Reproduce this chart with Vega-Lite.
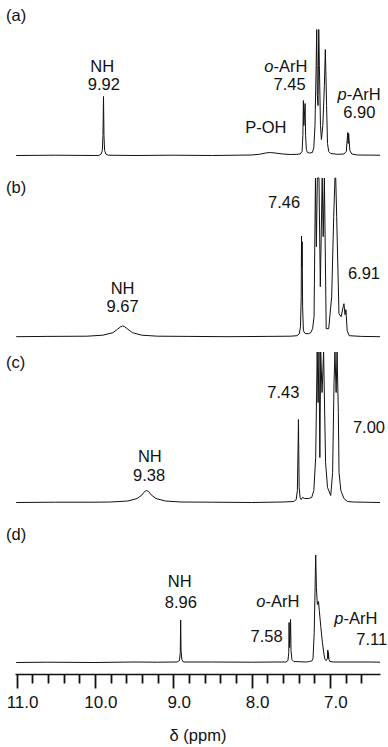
{
  "$schema": "https://vega.github.io/schema/vega-lite/v6.json",
  "background": "white",
  "padding": {"left": 5, "right": 0, "top": 0, "bottom": 0},
  "spacing": 0,
  "config": {"view": {"stroke": null}, "text": {"font": "Liberation Sans", "fontSize": 16.5, "color": "#111", "baseline": "middle"}},
  "resolve": {"scale": {"x": "independent", "y": "independent"}},
  "datasets": {
    "spectra": [
      {"p":"a","ppm":11.005,"i":0},{"p":"a","ppm":10.5,"i":0.3},{"p":"a","ppm":10.0,"i":0},{"p":"a","ppm":9.95,"i":0},{"p":"a","ppm":9.92,"i":1.5},{"p":"a","ppm":9.905,"i":5},{"p":"a","ppm":9.897,"i":20},{"p":"a","ppm":9.89,"i":59},{"p":"a","ppm":9.884,"i":20},{"p":"a","ppm":9.876,"i":5},{"p":"a","ppm":9.86,"i":1.5},{"p":"a","ppm":9.83,"i":0.3},{"p":"a","ppm":9.5,"i":0},{"p":"a","ppm":9.0,"i":0.3},{"p":"a","ppm":8.5,"i":0},{"p":"a","ppm":8.0,"i":0.5},{"p":"a","ppm":7.9,"i":1.2},{"p":"a","ppm":7.82,"i":2.5},{"p":"a","ppm":7.76,"i":3},{"p":"a","ppm":7.7,"i":2.5},{"p":"a","ppm":7.6,"i":1.5},{"p":"a","ppm":7.5,"i":1},{"p":"a","ppm":7.42,"i":1.2},{"p":"a","ppm":7.38,"i":1.5},{"p":"a","ppm":7.355,"i":4},{"p":"a","ppm":7.345,"i":20},{"p":"a","ppm":7.338,"i":55},{"p":"a","ppm":7.332,"i":30},{"p":"a","ppm":7.322,"i":45},{"p":"a","ppm":7.316,"i":52},{"p":"a","ppm":7.31,"i":20},{"p":"a","ppm":7.30,"i":6},{"p":"a","ppm":7.287,"i":3},{"p":"a","ppm":7.26,"i":2.5},{"p":"a","ppm":7.223,"i":3},{"p":"a","ppm":7.205,"i":8},{"p":"a","ppm":7.19,"i":30},{"p":"a","ppm":7.175,"i":90},{"p":"a","ppm":7.168,"i":126},{"p":"a","ppm":7.16,"i":60},{"p":"a","ppm":7.151,"i":50},{"p":"a","ppm":7.142,"i":126},{"p":"a","ppm":7.134,"i":90},{"p":"a","ppm":7.12,"i":30},{"p":"a","ppm":7.108,"i":16},{"p":"a","ppm":7.09,"i":30},{"p":"a","ppm":7.07,"i":70},{"p":"a","ppm":7.058,"i":106},{"p":"a","ppm":7.05,"i":80},{"p":"a","ppm":7.042,"i":50},{"p":"a","ppm":7.03,"i":12},{"p":"a","ppm":7.015,"i":4},{"p":"a","ppm":6.99,"i":2},{"p":"a","ppm":6.9,"i":1.2},{"p":"a","ppm":6.82,"i":1.5},{"p":"a","ppm":6.79,"i":4},{"p":"a","ppm":6.78,"i":15},{"p":"a","ppm":6.772,"i":23},{"p":"a","ppm":6.766,"i":12},{"p":"a","ppm":6.76,"i":22},{"p":"a","ppm":6.754,"i":15},{"p":"a","ppm":6.745,"i":5},{"p":"a","ppm":6.72,"i":1.5},{"p":"a","ppm":6.65,"i":0.5},{"p":"a","ppm":6.36,"i":0.3},

      {"p":"b","ppm":11.005,"i":0},{"p":"b","ppm":10.6,"i":0.3},{"p":"b","ppm":10.1,"i":0.5},{"p":"b","ppm":9.9,"i":1.5},{"p":"b","ppm":9.77,"i":4},{"p":"b","ppm":9.71,"i":7.5},{"p":"b","ppm":9.67,"i":10},{"p":"b","ppm":9.646,"i":10.7},{"p":"b","ppm":9.62,"i":10},{"p":"b","ppm":9.58,"i":7.5},{"p":"b","ppm":9.52,"i":4},{"p":"b","ppm":9.4,"i":1.5},{"p":"b","ppm":9.2,"i":0.5},{"p":"b","ppm":8.8,"i":0.3},{"p":"b","ppm":8.3,"i":0},{"p":"b","ppm":7.8,"i":0.3},{"p":"b","ppm":7.5,"i":0.5},{"p":"b","ppm":7.42,"i":1},{"p":"b","ppm":7.39,"i":3},{"p":"b","ppm":7.375,"i":10},{"p":"b","ppm":7.366,"i":40},{"p":"b","ppm":7.362,"i":100.7},{"p":"b","ppm":7.358,"i":70},{"p":"b","ppm":7.354,"i":95},{"p":"b","ppm":7.348,"i":30},{"p":"b","ppm":7.338,"i":6},{"p":"b","ppm":7.32,"i":3.5},{"p":"b","ppm":7.305,"i":3},{"p":"b","ppm":7.27,"i":3},{"p":"b","ppm":7.245,"i":4},{"p":"b","ppm":7.22,"i":8},{"p":"b","ppm":7.202,"i":20},{"p":"b","ppm":7.184,"i":158.7},{"p":"b","ppm":7.172,"i":90},{"p":"b","ppm":7.160,"i":158.7},{"p":"b","ppm":7.139,"i":158.7},{"p":"b","ppm":7.122,"i":50},{"p":"b","ppm":7.098,"i":158.7},{"p":"b","ppm":7.085,"i":100},{"p":"b","ppm":7.070,"i":158.7},{"p":"b","ppm":7.047,"i":8},{"p":"b","ppm":7.015,"i":8},{"p":"b","ppm":6.977,"i":40},{"p":"b","ppm":6.951,"i":120},{"p":"b","ppm":6.935,"i":158.7},{"p":"b","ppm":6.925,"i":158.7},{"p":"b","ppm":6.913,"i":120},{"p":"b","ppm":6.884,"i":23},{"p":"b","ppm":6.856,"i":20},{"p":"b","ppm":6.83,"i":30},{"p":"b","ppm":6.82,"i":33},{"p":"b","ppm":6.807,"i":22},{"p":"b","ppm":6.795,"i":27},{"p":"b","ppm":6.779,"i":6},{"p":"b","ppm":6.753,"i":1},{"p":"b","ppm":6.6,"i":0.3},{"p":"b","ppm":6.36,"i":0},

      {"p":"c","ppm":11.005,"i":0},{"p":"c","ppm":10.5,"i":0.3},{"p":"c","ppm":10.0,"i":0.3},{"p":"c","ppm":9.8,"i":0.5},{"p":"c","ppm":9.58,"i":1.5},{"p":"c","ppm":9.46,"i":4},{"p":"c","ppm":9.4,"i":7.5},{"p":"c","ppm":9.365,"i":11},{"p":"c","ppm":9.34,"i":12},{"p":"c","ppm":9.315,"i":11},{"p":"c","ppm":9.28,"i":7.5},{"p":"c","ppm":9.22,"i":4},{"p":"c","ppm":9.1,"i":1.5},{"p":"c","ppm":8.9,"i":0.5},{"p":"c","ppm":8.5,"i":0.3},{"p":"c","ppm":8.0,"i":0},{"p":"c","ppm":7.6,"i":0.5},{"p":"c","ppm":7.46,"i":1},{"p":"c","ppm":7.43,"i":3},{"p":"c","ppm":7.415,"i":12},{"p":"c","ppm":7.405,"i":60},{"p":"c","ppm":7.401,"i":83},{"p":"c","ppm":7.397,"i":50},{"p":"c","ppm":7.392,"i":15},{"p":"c","ppm":7.38,"i":5},{"p":"c","ppm":7.365,"i":3},{"p":"c","ppm":7.35,"i":5},{"p":"c","ppm":7.32,"i":4},{"p":"c","ppm":7.27,"i":4},{"p":"c","ppm":7.232,"i":5},{"p":"c","ppm":7.205,"i":12},{"p":"c","ppm":7.181,"i":45},{"p":"c","ppm":7.162,"i":150.5},{"p":"c","ppm":7.150,"i":100},{"p":"c","ppm":7.139,"i":150.5},{"p":"c","ppm":7.128,"i":45},{"p":"c","ppm":7.117,"i":150.5},{"p":"c","ppm":7.100,"i":110},{"p":"c","ppm":7.080,"i":150.5},{"p":"c","ppm":7.055,"i":40},{"p":"c","ppm":7.03,"i":15},{"p":"c","ppm":6.989,"i":7},{"p":"c","ppm":6.965,"i":30},{"p":"c","ppm":6.947,"i":120},{"p":"c","ppm":6.935,"i":150.5},{"p":"c","ppm":6.920,"i":110},{"p":"c","ppm":6.908,"i":150.5},{"p":"c","ppm":6.892,"i":90},{"p":"c","ppm":6.883,"i":30},{"p":"c","ppm":6.86,"i":12},{"p":"c","ppm":6.82,"i":4},{"p":"c","ppm":6.776,"i":1},{"p":"c","ppm":6.7,"i":0.5},{"p":"c","ppm":6.36,"i":0},

      {"p":"d","ppm":11.005,"i":0},{"p":"d","ppm":10.6,"i":0.3},{"p":"d","ppm":10.0,"i":0},{"p":"d","ppm":9.5,"i":0.5},{"p":"d","ppm":9.2,"i":0.3},{"p":"d","ppm":8.95,"i":0.5},{"p":"d","ppm":8.92,"i":2},{"p":"d","ppm":8.91,"i":10},{"p":"d","ppm":8.905,"i":42.5},{"p":"d","ppm":8.9,"i":12},{"p":"d","ppm":8.89,"i":3},{"p":"d","ppm":8.87,"i":0.5},{"p":"d","ppm":8.5,"i":0.5},{"p":"d","ppm":8.0,"i":0.3},{"p":"d","ppm":7.7,"i":0.5},{"p":"d","ppm":7.56,"i":0.5},{"p":"d","ppm":7.535,"i":2},{"p":"d","ppm":7.525,"i":10},{"p":"d","ppm":7.521,"i":40},{"p":"d","ppm":7.514,"i":15},{"p":"d","ppm":7.508,"i":25},{"p":"d","ppm":7.502,"i":43},{"p":"d","ppm":7.496,"i":12},{"p":"d","ppm":7.485,"i":3},{"p":"d","ppm":7.46,"i":1},{"p":"d","ppm":7.3,"i":0.5},{"p":"d","ppm":7.26,"i":1},{"p":"d","ppm":7.232,"i":1.5},{"p":"d","ppm":7.215,"i":4},{"p":"d","ppm":7.2,"i":30},{"p":"d","ppm":7.19,"i":70},{"p":"d","ppm":7.181,"i":107.5},{"p":"d","ppm":7.172,"i":75},{"p":"d","ppm":7.16,"i":58},{"p":"d","ppm":7.145,"i":61},{"p":"d","ppm":7.135,"i":52},{"p":"d","ppm":7.115,"i":35},{"p":"d","ppm":7.095,"i":20},{"p":"d","ppm":7.075,"i":8},{"p":"d","ppm":7.062,"i":3},{"p":"d","ppm":7.045,"i":2},{"p":"d","ppm":7.032,"i":4},{"p":"d","ppm":7.026,"i":12.5},{"p":"d","ppm":7.022,"i":4},{"p":"d","ppm":7.018,"i":10},{"p":"d","ppm":7.012,"i":3},{"p":"d","ppm":7.0,"i":1},{"p":"d","ppm":6.95,"i":0.5},{"p":"d","ppm":6.5,"i":0.5},{"p":"d","ppm":6.36,"i":0.3}
    ],
    "labels": [
      {"p":"a","role":"panel","t":"(a)","ppm":11.135,"i":139.7},
      {"p":"a","role":"label","t":"NH","ppm":9.906,"i":88.8},
      {"p":"a","role":"label","t":"9.92","ppm":9.885,"i":70.5},
      {"p":"a","role":"prefix","t":"o","ppm":7.72,"i":88.8},
      {"p":"a","role":"suffix","t":"-ArH","ppm":7.72,"i":88.8},
      {"p":"a","role":"label","t":"7.45","ppm":7.515,"i":70.5},
      {"p":"a","role":"label","t":"P-OH","ppm":7.818,"i":27.2},
      {"p":"a","role":"prefix","t":"p","ppm":6.785,"i":60.5},
      {"p":"a","role":"suffix","t":"-ArH","ppm":6.785,"i":60.5},
      {"p":"a","role":"label","t":"6.90","ppm":6.623,"i":42.2},
      {"p":"b","role":"panel","t":"(b)","ppm":11.135,"i":148.7},
      {"p":"b","role":"label","t":"7.46","ppm":7.585,"i":133.4},
      {"p":"b","role":"label","t":"6.91","ppm":6.565,"i":62.7},
      {"p":"b","role":"label","t":"NH","ppm":9.646,"i":47.4},
      {"p":"b","role":"label","t":"9.67","ppm":9.646,"i":30},
      {"p":"c","role":"panel","t":"(c)","ppm":11.135,"i":139.5},
      {"p":"c","role":"label","t":"7.43","ppm":7.595,"i":109.2},
      {"p":"c","role":"label","t":"7.00","ppm":6.501,"i":74.2},
      {"p":"c","role":"label","t":"NH","ppm":9.298,"i":45.8},
      {"p":"c","role":"label","t":"9.38","ppm":9.307,"i":26.5},
      {"p":"d","role":"panel","t":"(d)","ppm":11.135,"i":127.5},
      {"p":"d","role":"label","t":"NH","ppm":8.918,"i":80.8},
      {"p":"d","role":"label","t":"8.96","ppm":8.903,"i":59.2},
      {"p":"d","role":"prefix","t":"o","ppm":7.822,"i":60.8},
      {"p":"d","role":"suffix","t":"-ArH","ppm":7.822,"i":60.8},
      {"p":"d","role":"label","t":"7.58","ppm":7.808,"i":25.8},
      {"p":"d","role":"prefix","t":"p","ppm":6.826,"i":43.2},
      {"p":"d","role":"suffix","t":"-ArH","ppm":6.826,"i":43.2},
      {"p":"d","role":"label","t":"7.11","ppm":6.466,"i":22.5}
    ]
  },
  "vconcat": [
    {
      "width": 365, "height": 166,
      "encoding": {
        "x": {"field": "ppm", "type": "quantitative", "scale": {"domain": [6.36, 11.02], "reverse": true, "nice": false, "zero": false}, "axis": null},
        "y": {"field": "i", "type": "quantitative", "scale": {"domain": [-10.5, 155.5], "nice": false, "zero": false}, "axis": null}
      },
      "layer": [
        {"data": {"name": "spectra"}, "transform": [{"filter": "datum.p == 'a'"}], "mark": {"type": "line", "stroke": "#111", "strokeWidth": 1}},
        {"data": {"name": "labels"}, "transform": [{"filter": "datum.p == 'a' && datum.role == 'label'"}], "mark": {"type": "text", "align": "center"}, "encoding": {"text": {"field": "t"}}},
        {"data": {"name": "labels"}, "transform": [{"filter": "datum.p == 'a' && (datum.role == 'panel' || datum.role == 'suffix')"}], "mark": {"type": "text", "align": "left"}, "encoding": {"text": {"field": "t"}}},
        {"data": {"name": "labels"}, "transform": [{"filter": "datum.p == 'a' && datum.role == 'prefix'"}], "mark": {"type": "text", "align": "right", "fontStyle": "italic"}, "encoding": {"text": {"field": "t"}}}
      ]
    },
    {
      "width": 365, "height": 180,
      "encoding": {
        "x": {"field": "ppm", "type": "quantitative", "scale": {"domain": [6.36, 11.02], "reverse": true, "nice": false, "zero": false}, "axis": null},
        "y": {"field": "i", "type": "quantitative", "scale": {"domain": [-9.3, 170.7], "nice": false, "zero": false}, "axis": null}
      },
      "layer": [
        {"data": {"name": "spectra"}, "transform": [{"filter": "datum.p == 'b'"}], "mark": {"type": "line", "stroke": "#111", "strokeWidth": 1}},
        {"data": {"name": "labels"}, "transform": [{"filter": "datum.p == 'b' && datum.role == 'label'"}], "mark": {"type": "text", "align": "center"}, "encoding": {"text": {"field": "t"}}},
        {"data": {"name": "labels"}, "transform": [{"filter": "datum.p == 'b' && (datum.role == 'panel' || datum.role == 'suffix')"}], "mark": {"type": "text", "align": "left"}, "encoding": {"text": {"field": "t"}}}
      ]
    },
    {
      "width": 365, "height": 166,
      "encoding": {
        "x": {"field": "ppm", "type": "quantitative", "scale": {"domain": [6.36, 11.02], "reverse": true, "nice": false, "zero": false}, "axis": null},
        "y": {"field": "i", "type": "quantitative", "scale": {"domain": [-9.5, 156.5], "nice": false, "zero": false}, "axis": null}
      },
      "layer": [
        {"data": {"name": "spectra"}, "transform": [{"filter": "datum.p == 'c'"}], "mark": {"type": "line", "stroke": "#111", "strokeWidth": 1}},
        {"data": {"name": "labels"}, "transform": [{"filter": "datum.p == 'c' && datum.role == 'label'"}], "mark": {"type": "text", "align": "center"}, "encoding": {"text": {"field": "t"}}},
        {"data": {"name": "labels"}, "transform": [{"filter": "datum.p == 'c' && (datum.role == 'panel' || datum.role == 'suffix')"}], "mark": {"type": "text", "align": "left"}, "encoding": {"text": {"field": "t"}}}
      ]
    },
    {
      "width": 365, "height": 162,
      "encoding": {
        "x": {"field": "ppm", "type": "quantitative", "scale": {"domain": [6.36, 11.02], "reverse": true, "nice": false, "zero": false},
          "axis": {
            "values": [11.0, 10.8, 10.6, 10.4, 10.2, 10.0, 9.8, 9.6, 9.4, 9.2, 9.0, 8.8, 8.6, 8.4, 8.2, 8.0, 7.8, 7.6, 7.4, 7.2, 7.0, 6.8, 6.6],
            "title": "δ (ppm)",
            "grid": false,
            "domainColor": "#111", "domainWidth": 1.5,
            "tickColor": "#111", "tickWidth": 1.8,
            "tickSize": {"condition": {"test": "abs(datum.value - round(datum.value)) < 0.01", "value": 14}, "value": 9},
            "labelExpr": "abs(datum.value - round(datum.value)) < 0.01 ? format(datum.value, '.1f') : ''",
            "labelFont": "Liberation Sans", "labelFontSize": 17, "labelColor": "#111",
            "labelPadding": 6, "labelOffset": 5.5, "labelFlush": false, "labelOverlap": false, "labelBound": false,
            "titleFont": "Liberation Sans", "titleFontSize": 16.5, "titleFontWeight": "normal", "titleColor": "#111", "titlePadding": 17
          }},
        "y": {"field": "i", "type": "quantitative", "scale": {"domain": [-11.5, 150.5], "nice": false, "zero": false}, "axis": null}
      },
      "layer": [
        {"data": {"name": "spectra"}, "transform": [{"filter": "datum.p == 'd'"}], "mark": {"type": "line", "stroke": "#111", "strokeWidth": 1}},
        {"data": {"name": "labels"}, "transform": [{"filter": "datum.p == 'd' && datum.role == 'label'"}], "mark": {"type": "text", "align": "center"}, "encoding": {"text": {"field": "t"}}},
        {"data": {"name": "labels"}, "transform": [{"filter": "datum.p == 'd' && (datum.role == 'panel' || datum.role == 'suffix')"}], "mark": {"type": "text", "align": "left"}, "encoding": {"text": {"field": "t"}}},
        {"data": {"name": "labels"}, "transform": [{"filter": "datum.p == 'd' && datum.role == 'prefix'"}], "mark": {"type": "text", "align": "right", "fontStyle": "italic"}, "encoding": {"text": {"field": "t"}}}
      ]
    }
  ]
}
